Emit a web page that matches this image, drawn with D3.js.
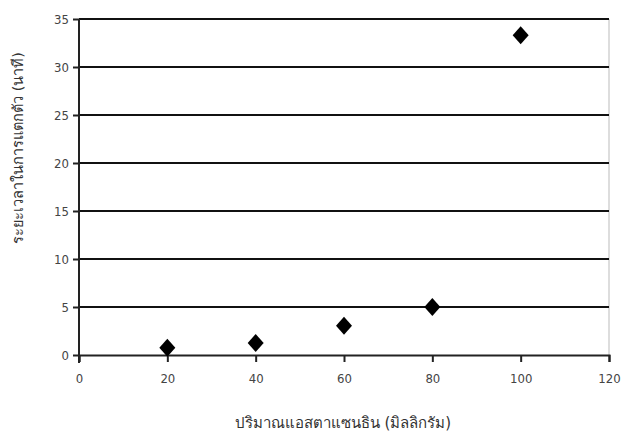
<!DOCTYPE html>
<html><head><meta charset="utf-8">
<script src="https://cdn.jsdelivr.net/npm/d3@7"></script>
<style>
html,body{margin:0;padding:0;background:#fff;}
text{font-family:"DejaVu Sans","Noto Sans",sans-serif;}
</style></head>
<body><svg id="c" width="624" height="439"></svg>
<script>
const xValues = [20, 40, 60, 80, 100];
const yValues = [0.75, 1.25, 3.05, 5.0, 33.3];
const xTicks = [0, 20, 40, 60, 80, 100, 120];
const yTicks = [0, 5, 10, 15, 20, 25, 30, 35];
const xTitle = "ปริมาณแอสตาแซนธิน (มิลลิกรัม)";
const yTitle = "ระยะเวลาในการแตกตัว (นาที)";

const svg = d3.select("#c");
const L = 79, R = 609, T = 19, B = 355;
const x = d3.scaleLinear().domain([0, 120]).range([L, R]);
const y = d3.scaleLinear().domain([0, 35]).range([B, T]);

// right border
svg.append("line").attr("x1", R).attr("x2", R).attr("y1", T).attr("y2", B)
  .attr("stroke", "#bbb").attr("stroke-width", 1);

// gridlines
svg.append("g").selectAll("line").data(yTicks.filter(d => d > 0)).join("line")
  .attr("x1", L).attr("x2", R).attr("y1", d => y(d)).attr("y2", d => y(d))
  .attr("stroke", "#111").attr("stroke-width", 2);

const yAxis = svg.append("g").attr("transform", `translate(${L},0)`)
  .call(d3.axisLeft(y).tickValues(yTicks).tickSize(6).tickPadding(4).tickFormat(d3.format("d")));
const xAxis = svg.append("g").attr("transform", `translate(0,${B})`)
  .call(d3.axisBottom(x).tickValues(xTicks).tickSize(7).tickPadding(12).tickFormat(d3.format("d")));
[yAxis, xAxis].forEach(g => {
  g.select(".domain").attr("stroke", "#222").attr("stroke-width", 2);
  g.selectAll(".tick line").attr("stroke", "#222").attr("stroke-width", 2);
  g.selectAll("text").attr("fill", "#444").style("font-size", "13px")
    .style("font-family", "'DejaVu Sans Condensed','DejaVu Sans',sans-serif");
});
yAxis.select(".domain").attr("d", `M0,${T}V${B + 8}`);

// markers
svg.append("g").selectAll("path").data(xValues.map((v, i) => [v, yValues[i]])).join("path")
  .attr("transform", d => `translate(${x(d[0])},${y(d[1])})`)
  .attr("d", "M0,-9L8,0L0,9L-8,0Z").attr("fill", "#000");

svg.append("text").attr("x", 343).attr("y", 428).attr("text-anchor", "middle")
  .attr("fill", "#333").style("font-size", "15px").text(xTitle);
svg.append("text").attr("transform", "translate(23,148) rotate(-90)").attr("text-anchor", "middle")
  .attr("fill", "#333").style("font-size", "14.5px").text(yTitle);
</script></body></html>
